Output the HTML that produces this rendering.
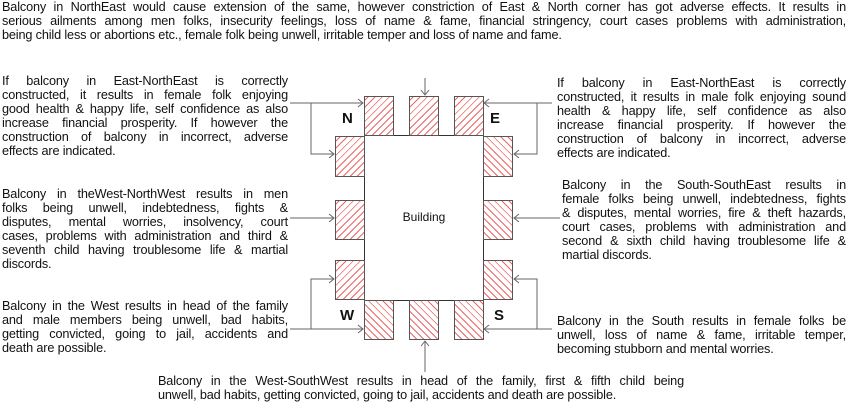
<!DOCTYPE html>
<html><head><meta charset="utf-8"><style>
body{margin:0;width:850px;height:406px;background:#fff;position:relative;overflow:hidden;font-family:"Liberation Sans",Arial,sans-serif;color:#111}
.p{position:absolute;font-size:12.7px;line-height:14px;letter-spacing:-0.15px}
.p div{text-align:justify;text-align-last:justify;white-space:nowrap;overflow:visible}
.p div.l{text-align-last:left}
.b{position:absolute;border:1px solid #555;box-sizing:border-box;background:#fff}
.d1{background:repeating-linear-gradient(45deg,#fff 0 4px,#e66 4px 5px)}
.d2{background:repeating-linear-gradient(-45deg,#fff 0 4px,#e66 4px 5px)}
.lab{position:absolute;font-weight:bold;font-size:15px}
</style></head><body>

<div class="p" style="left:2px;top:0px;width:844px">
<div>Balcony in NorthEast would cause extension of the same, however constriction of East &amp; North corner has got adverse effects. It results in</div>
<div>serious ailments among men folks, insecurity feelings, loss of name &amp; fame, financial stringency, court cases problems with administration,</div>
<div class="l">being child less or abortions etc., female folk being unwell, irritable temper and loss of name and fame.</div>
</div>

<div class="p" style="left:2px;top:74px;width:286px">
<div>If balcony in East-NorthEast is correctly</div>
<div>constructed, it results in female folk enjoying</div>
<div>good health &amp; happy life, self confidence as also</div>
<div>increase financial prosperity. If however the</div>
<div>construction of balcony in incorrect, adverse</div>
<div class="l">effects are indicated.</div>
</div>

<div class="p" style="left:557px;top:76px;width:289px">
<div>If balcony in East-NorthEast is correctly</div>
<div>constructed, it results in male folk enjoying sound</div>
<div>health &amp; happy life, self confidence as also</div>
<div>increase financial prosperity. If however the</div>
<div>construction of balcony in incorrect, adverse</div>
<div class="l">effects are indicated.</div>
</div>

<div class="p" style="left:2px;top:187px;width:286px">
<div>Balcony in theWest-NorthWest results in men</div>
<div>folks being unwell, indebtedness, fights &amp;</div>
<div>disputes, mental worries, insolvency, court</div>
<div>cases, problems with administration and third &amp;</div>
<div>seventh child having troublesome life &amp; martial</div>
<div class="l">discords.</div>
</div>

<div class="p" style="left:562px;top:178px;width:284px">
<div>Balcony in the South-SouthEast results in</div>
<div>female folks being unwell, indebtedness, fights</div>
<div>&amp; disputes, mental worries, fire &amp; theft hazards,</div>
<div>court cases, problems with administration and</div>
<div>second &amp; sixth child having troublesome life &amp;</div>
<div class="l">martial discords.</div>
</div>

<div class="p" style="left:2px;top:299px;width:286px">
<div>Balcony in the West results in head of the family</div>
<div>and male members being unwell, bad habits,</div>
<div>getting convicted, going to jail, accidents and</div>
<div class="l">death are possible.</div>
</div>

<div class="p" style="left:557px;top:314px;width:289px">
<div>Balcony in the South results in female folks be</div>
<div>unwell, loss of name &amp; fame, irritable temper,</div>
<div class="l">becoming stubborn and mental worries.</div>
</div>

<div class="p" style="left:158px;top:374px;width:526px">
<div>Balcony in the West-SouthWest results in head of the family, first &amp; fifth child being</div>
<div class="l">unwell, bad habits, getting convicted, going to jail, accidents and death are possible.</div>
</div>

<div class="b" style="left:364px;top:135px;width:120px;height:166px;border-color:#333"></div>
<div style="position:absolute;left:364px;top:210px;width:120px;text-align:center;font-size:12px">Building</div>

<div class="b d2" style="left:364px;top:96px;width:30px;height:40px"></div>
<div class="b d2" style="left:409px;top:96px;width:30px;height:40px"></div>
<div class="b d2" style="left:454px;top:96px;width:30px;height:40px"></div>
<div class="b d2" style="left:335px;top:136px;width:30px;height:41px"></div>
<div class="b d1" style="left:483px;top:136px;width:30px;height:41px"></div>
<div class="b d2" style="left:335px;top:200px;width:30px;height:40px"></div>
<div class="b d1" style="left:483px;top:200px;width:30px;height:40px"></div>
<div class="b d2" style="left:335px;top:260px;width:30px;height:40px"></div>
<div class="b d1" style="left:483px;top:260px;width:30px;height:40px"></div>
<div class="b d1" style="left:364px;top:300px;width:30px;height:40px"></div>
<div class="b d1" style="left:409px;top:300px;width:30px;height:40px"></div>
<div class="b d1" style="left:454px;top:300px;width:30px;height:40px"></div>

<div class="lab" style="left:342px;top:110px">N</div>
<div class="lab" style="left:490px;top:110px">E</div>
<div class="lab" style="left:340px;top:307px">W</div>
<div class="lab" style="left:494px;top:307px">S</div>

<svg width="850" height="406" style="position:absolute;left:0;top:0" fill="none" stroke="#666" stroke-width="1">
<path d="M425 78V95M421 90l4 5 4-5"/>
<path d="M290 103H363M358 99l5 4-5 4M311 103V154H334M329 150l5 4-5 4"/>
<path d="M552 103H484M489 99l-5 4 5 4M537 103V154H514M519 150l-5 4 5 4"/>
<path d="M290 218H334M329 214l5 4-5 4"/>
<path d="M560 218H514M519 214l-5 4 5 4"/>
<path d="M290 329H363M358 325l5 4-5 4M311 329V279H334M329 275l5 4-5 4"/>
<path d="M552 329H484M489 325l-5 4 5 4M537 329V279H514M519 275l-5 4 5 4"/>
<path d="M425 372V341M421 346l4-5 4 5"/>
</svg>
</body></html>
